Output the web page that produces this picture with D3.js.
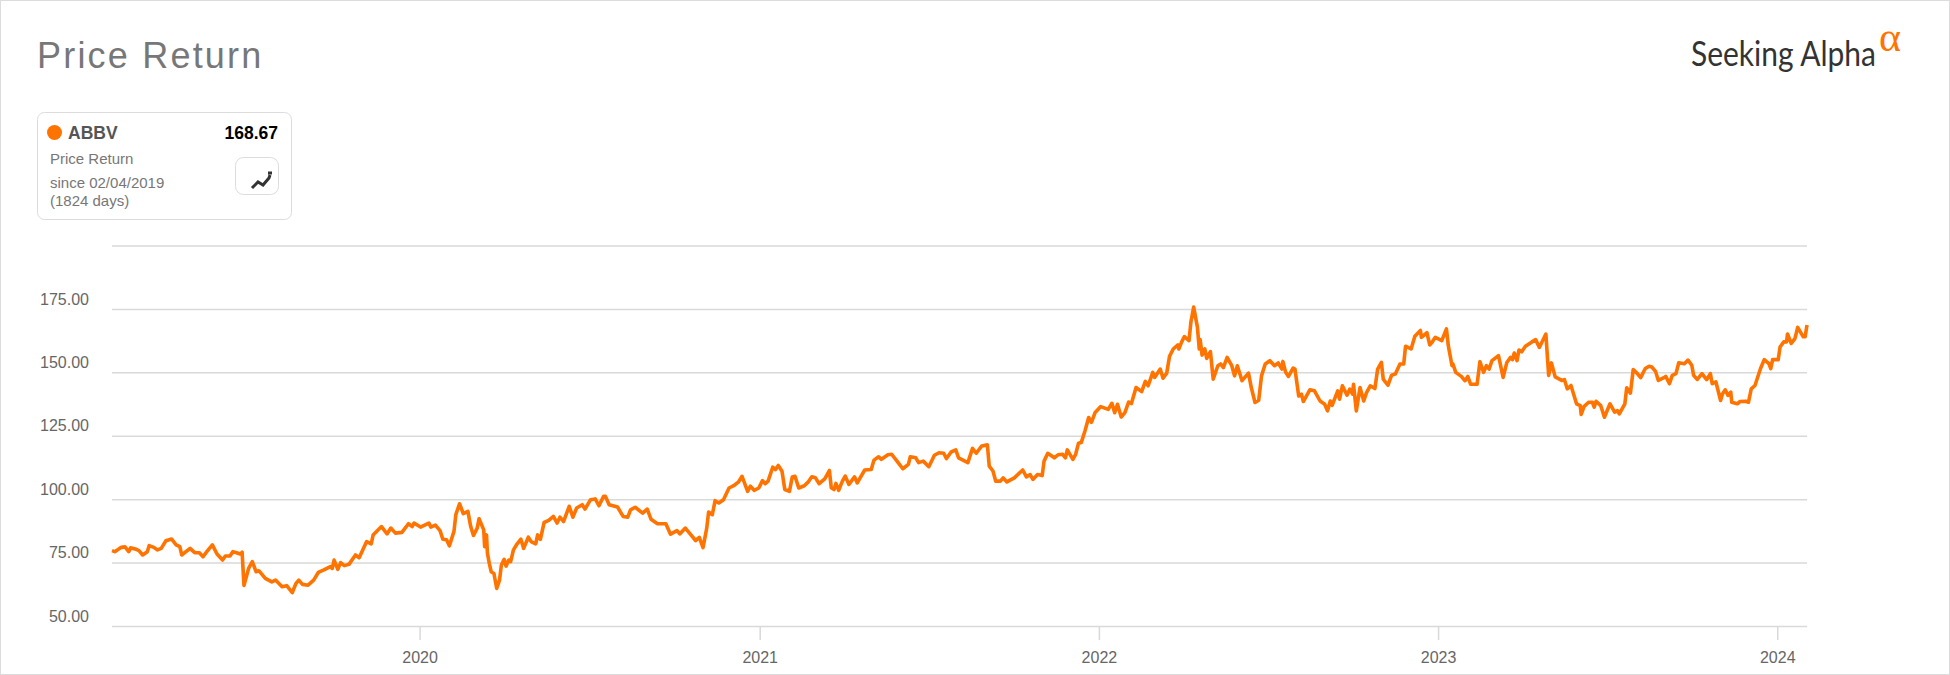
<!DOCTYPE html>
<html>
<head>
<meta charset="utf-8">
<script src="https://cdn.jsdelivr.net/npm/d3@7"></script>
<style>
html,body{margin:0;padding:0;background:#fff;}
text{font-family:"Liberation Sans",Arial,sans-serif;}
</style>
</head>
<body>
<div id="chart"></div>
<script>
var startDate = new Date(2019,1,4);
var totalDays = 1824;

// days since startDate
var days = [0,3,10,14,18,20,25,29,33,38,40,45,49,53,58,64,69,73,75,84,89,94,98,102,108,113,119,122,127,130,134,138,140,142,147,151,155,158,165,172,176,183,188,194,198,201,205,211,217,222,228,235,237,239,243,246,250,255,262,266,274,279,281,290,296,300,305,312,319,323,325,332,341,343,348,353,356,360,363,368,370,374,378,383,386,389,393,
395,400,401,403,404,406,408,411,414,417,419,422,424,427,429,432,436,440,443,448,451,456,458,461,465,470,475,479,482,486,492,496,500,506,509,515,520,524,529,531,535,544,550,555,558,563,571,576,580,587,596,601,608,611,617,623,628,632,636,640,642,646,649,653,658,664,669,674,678,684,687,691,696,700,703,706,711,714,717,721,724,729,732,735,739,745,749,753,757,761,
767,772,774,777,779,782,786,789,793,799,802,810,817,820,825,828,835,839,846,851,857,859,865,868,873,879,885,890,895,898,903,908,911,921,926,930,936,942,944,948,951,956,959,963,971,980,984,988,991,996,1001,1003,1007,1014,1018,1023,1026,1028,1034,1037,1040,1043,1047,1051,1054,1058,1064,
1072,1076,1079,1082,1086,1090,1094,1097,1102,1108,1112,1115,1120,1122,1128,1131,1135,1138,1142,1147,1148,1151,1154,1159,1161,1164,1168,1170,1171,1173,1176,1178,1182,1185,1190,1193,1196,1200,1205,1208,1211,1216,1223,1226,1230,1234,1237,1241,1246,1251,1255,1259,1260,1263,1266,1271,1273,1277,1280,1282,1289,1294,1300,1305,1308,1311,1313,1319,1321,1324,1329,1332,1335,1336,1339,1343,1347,1350,1354,1359,1362,1366,1368,1373,1377,1381,1386,1390,1392,1398,1402,1408,1409,1415,1418,1420,1424,1431,1436,1438,1442,1443,1446,1452,1456,1459,1462,1469,1472,1476,1479,1482,1485,1492,1497,1501,1505,1507,1509,1512,1514,
1517,1521,1528,1532,1536,1543,1546,1549,1553,1560,1563,1566,1570,1576,1580,1581,1584,1589,1593,1595,1597,1602,1606,1612,1617,1620,1622,1628,1630,1634,1637,1641,1645,1650,1654,1657,1661,1664,1670,1672,1676,1679,1683,1686,1692,1696,1700,1702,1706,1711,1716,1720,1722,1726,1731,1733,1736,1739,1742,1743,1749,1752,1758,1761,1764,1768,1774,1778,1783,1785,1787,1793,1795,1799,1802,1803,1807,1811,1814,1820,1822,1824];

var prices = [79.7,79.3,81.0,81.2,79.3,80.8,80.4,79.7,78.0,79.3,81.7,81.0,80.0,80.6,83.6,84.3,82.0,81.3,78.0,80.6,78.9,78.9,77.3,79.3,82.0,78.4,76.0,77.6,77.6,79.3,78.9,78.4,79.1,66.0,72.7,75.4,71.4,71.8,68.8,67.4,68.1,65.5,65.9,63.2,66.8,68.1,66.4,66.1,68.1,71.1,72.1,73.4,72.7,76.0,72.3,75.0,73.8,74.3,78.0,76.9,83.3,82.4,85.9,89.2,86.3,88.6,86.6,86.9,90.3,89.2,90.6,89.0,90.6,89.0,89.8,87.6,84.2,84.0,81.6,87.3,93.9,98.2,94.3,95.2,89.2,85.7,88.6,
92.3,87.9,81.3,85.9,78.7,74.7,71.4,70.7,64.8,68.1,74.0,76.3,73.6,76.0,75.4,80.0,82.4,84.2,80.6,85.0,83.3,82.4,85.9,84.2,90.8,91.6,93.2,90.6,92.9,91.2,97.2,92.9,96.5,97.8,96.1,99.8,100.1,97.4,101.1,101.1,97.8,96.9,93.2,92.9,95.8,96.8,94.5,96.1,92.1,90.3,90.3,86.2,87.6,86.3,88.6,85.9,83.7,84.9,80.9,88.6,94.9,93.9,99.4,98.5,99.8,104.4,105.3,106.7,109.0,103.1,105.1,103.5,104.4,107.3,106.1,107.1,112.6,111.7,113.3,111.0,103.8,103.1,108.7,109.0,104.4,105.3,106.7,108.8,108.4,106.1,
108.0,111.3,104.5,103.8,106.2,103.5,107.1,109.1,105.8,108.8,106.4,111.5,111.7,115.4,116.7,115.7,117.5,117.7,114.4,112.0,113.7,116.7,116.3,114.4,115.0,112.8,117.3,118.3,118.1,116.0,118.6,119.4,116.3,114.4,120.0,118.1,121.0,121.4,113.0,111.1,107.1,107.1,108.4,106.8,108.4,111.5,108.8,109.7,107.8,109.7,109.3,115.0,118.1,116.3,117.5,117.7,116.3,119.4,115.7,117.7,122.0,122.3,126.9,132.2,130.3,134.2,136.5,
135.4,137.8,134.1,137.4,132.4,134.1,138.3,137.7,144.0,142.4,146.4,144.7,150.0,148.0,151.3,147.7,149.7,156.3,159.2,160.8,159.2,161.9,164.1,162.5,169.8,175.7,167.8,159.2,162.9,156.8,159.2,155.5,158.2,147.3,152.6,153.3,151.9,155.9,152.6,148.6,152.6,146.7,149.7,144.0,138.1,139.0,148.6,153.3,154.6,152.6,153.7,151.3,154.3,150.0,148.4,151.7,151.3,140.7,141.4,138.5,143.1,142.7,138.7,137.4,134.8,138.7,137.0,142.7,139.4,144.7,141.0,143.4,141.4,145.3,134.8,144.0,138.7,142.0,144.7,143.6,151.3,153.9,147.3,144.9,148.9,149.3,153.3,153.3,160.3,159.2,164.2,166.5,163.8,165.6,160.8,161.6,163.8,162.5,167.1,160.5,152.6,153.3,150.0,148.4,146.7,148.4,145.3,145.3,154.2,150.0,152.6,151.3,154.6,156.6,148.0,153.9,155.9,155.0,157.6,154.6,158.8,
158.1,160.3,162.0,162.9,159.8,165.1,148.8,153.7,148.2,146.8,147.1,143.5,144.8,137.6,136.9,133.4,136.5,138.2,138.2,136.3,138.6,136.9,132.3,137.6,134.3,134.9,133.6,137.6,143.9,141.8,151.1,149.7,147.9,151.5,152.4,152.1,150.4,146.8,147.9,148.4,145.5,148.8,149.5,153.8,153.4,154.8,152.8,148.8,147.2,149.5,147.1,149.5,145.5,146.2,138.9,141.5,143.1,140.9,142.2,138.2,137.6,138.5,138.6,138.2,143.5,144.8,151.5,155.0,153.4,151.5,155.0,155.0,160.0,162.0,162.0,165.1,161.4,163.3,167.7,164.0,164.0,168.67];

var yTicks = [50,75,100,125,150,175,200];
var xTickYears = [2020,2021,2022,2023,2024];

var width = 1950, height = 675;
var orange = "#ff7300", gridColor = "#d9d9d9", labelColor = "#666";

var svg = d3.select("#chart").append("svg")
	.attr("width",width).attr("height",height)
	.style("display","block");

// outer frame
svg.append("rect").attr("x",0.5).attr("y",0.5)
	.attr("width",width-1).attr("height",height-1)
	.style("fill","#fff").style("stroke","#dcdcdc");

var X = d3.scaleTime()
	.domain([startDate, d3.timeDay.offset(startDate,totalDays)])
	.range([112,1807]);
var Y = d3.scaleLinear().domain([50,200]).range([626,245.5]);

var yAxis = d3.axisLeft(Y).tickValues(yTicks)
	.tickSize(-(1807-112))
	.tickFormat(function(d){ return d==200 ? "" : d3.format(".2f")(d); });
var gy = svg.append("g").attr("transform","translate(112,0)").call(yAxis);
gy.select(".domain").remove();
gy.selectAll("line").style("stroke",gridColor).style("stroke-width",1.5);
gy.selectAll("text")
	.attr("x",-23).attr("dy","-0.3em")
	.style("font-size","16px").style("fill",labelColor);

var xAxis = d3.axisBottom(X)
	.tickValues(xTickYears.map(function(y){ return new Date(y,0,1); }))
	.tickSize(14).tickFormat(d3.timeFormat("%Y"));
var gx = svg.append("g").attr("transform","translate(0,626)").call(xAxis);
gx.select(".domain").remove();
gx.selectAll("line").style("stroke",gridColor).style("stroke-width",1.5);
gx.selectAll("text")
	.attr("y",26).attr("dy","0.71em")
	.style("font-size","16px").style("fill",labelColor);

var line = d3.line()
	.x(function(d){ return X(d3.timeDay.offset(startDate,d)); })
	.y(function(d,i){ return Y(prices[i]); });

svg.append("path").datum(days)
	.attr("d",line)
	.style("fill","none").style("stroke",orange)
	.style("stroke-width",3.6).style("stroke-linejoin","round");

// title
svg.append("text").attr("x",37).attr("y",68).text("Price Return")
	.style("font-size","36px").style("letter-spacing","2.2px").style("fill","#777");

// legend card
svg.append("rect").attr("x",37.5).attr("y",112.5).attr("width",254).attr("height",107).attr("rx",7)
	.style("fill","#fff").style("stroke","#dcdcdc");
svg.append("circle").attr("cx",54.5).attr("cy",132.5).attr("r",7.5).style("fill",orange);
svg.append("text").attr("x",68).attr("y",139).text("ABBV")
	.style("font-size","17.5px").style("font-weight","bold").style("fill","#555");
svg.append("text").attr("x",278).attr("y",139).attr("text-anchor","end").text("168.67")
	.style("font-size","17.5px").style("font-weight","bold").style("fill","#000");
svg.selectAll(".cardline").data([["Price Return",164],["since 02/04/2019",188],["(1824 days)",206]]).enter().append("text")
	.attr("class","cardline")
	.attr("x",50).attr("y",function(d){return d[1]})
	.text(function(d){return d[0]})
	.style("font-size","15px").style("fill","#777");

svg.append("rect").attr("x",235.5).attr("y",157.5).attr("width",43).attr("height",37).attr("rx",8)
	.style("fill","#fff").style("stroke","#dcdcdc");
svg.append("path").attr("d","M252 188L258 182L263 185L269 178L270 175M268 173H272")
	.style("fill","none").style("stroke","#333").style("stroke-width",3);

// logo
svg.append("text").attr("x",1691).attr("y",66).text("Seeking Alpha")
	.attr("textLength",185).attr("lengthAdjust","spacingAndGlyphs")
	.style("font-family","Lato").style("font-size","34px").style("fill","#333");
svg.append("text").attr("x",1879).attr("y",51).text("α")
	.style("font-family","Liberation Serif").style("font-size","42px").style("fill",orange);
</script>
</body>
</html>
